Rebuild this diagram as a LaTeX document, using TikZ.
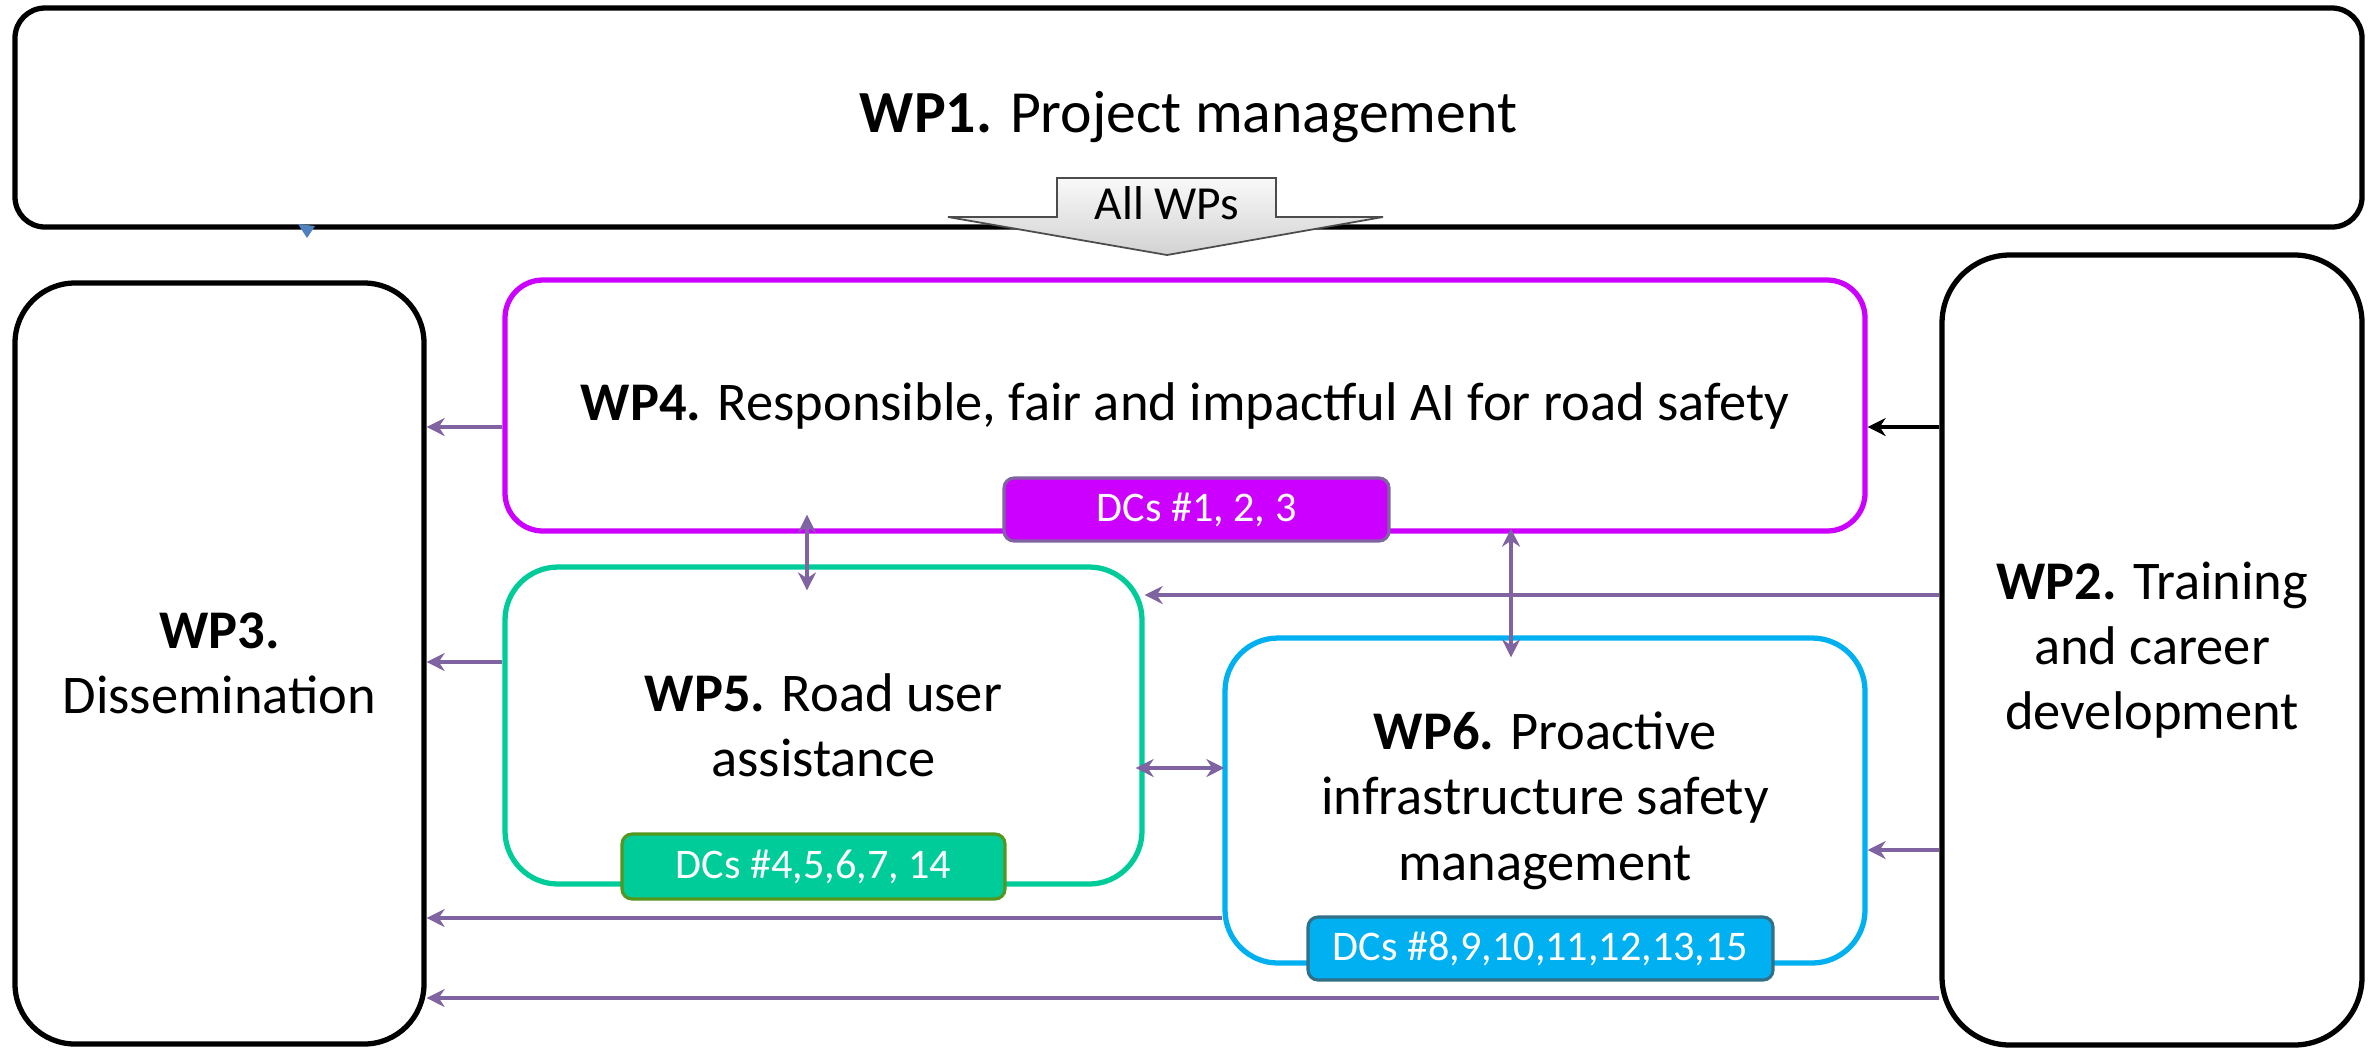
\documentclass[tikz,border=0pt]{standalone}
\usepackage{fontspec}
\setmainfont{Carlito}
\usetikzlibrary{arrows.meta}
\definecolor{wpmagenta}{RGB}{204,0,255}
\definecolor{wpgreen}{RGB}{0,204,153}
\definecolor{wpcyan}{RGB}{0,176,240}
\definecolor{linkpurple}{RGB}{128,100,162}
\definecolor{dcgreen}{RGB}{84,150,30}
\definecolor{dcteal}{RGB}{49,112,135}
\definecolor{markblue}{RGB}{79,129,189}

\tikzset{
  >={Stealth[length=1.8mm,width=1.8mm]},
  wpbox/.style={draw, line width=1.5pt, align=center, inner sep=0pt,
    font=\fontsize{15.5}{18.6}\selectfont},
  dcbox/.style={rounded corners=1mm, line width=0.9pt, text=white, inner sep=0pt,
    font=\fontsize{12}{14}\selectfont},
  flow/.style={linkpurple, line width=1.3pt, ->},
  flowboth/.style={linkpurple, line width=1.3pt, <->}
}

\begin{document}
\begin{tikzpicture}
    \useasboundingbox (0,0) rectangle (23.74,-10.47);
    % work packages
    \node[wpbox, font=\fontsize{17}{20}\selectfont, rounded corners=3mm, minimum width=23.47cm, minimum height=2.19cm] (wp1) at (11.885,-1.175) {\textbf{WP1.} Project management};
    \node[wpbox, rounded corners=6mm, minimum width=4.09cm, minimum height=7.61cm] (wp3) at (2.195,-6.635) {\textbf{WP3.}\\Dissemination};
    \node[wpbox, rounded corners=6.8mm, minimum width=4.2cm, minimum height=7.9cm] (wp2) at (21.52,-6.5) {\textbf{WP2.} Training\\and career\\development};
    \node[wpbox, draw=wpmagenta, rounded corners=3.8mm, minimum width=13.6cm, minimum height=2.51cm] (wp4) at (11.85,-4.055) {\textbf{WP4.} Responsible, fair and impactful AI for road safety};
    \node[wpbox, draw=wpgreen, rounded corners=5.3mm, minimum width=6.37cm, minimum height=3.17cm] (wp5) at (8.235,-7.255) {\textbf{WP5.} Road user\\assistance};
    \node[wpbox, draw=wpcyan, rounded corners=5.3mm, minimum width=6.4cm, minimum height=3.25cm] (wp6) at (15.45,-8.005) {\textbf{WP6.} Proactive\\infrastructure safety\\management};
    % doctoral candidates
    \node[dcbox, fill=wpmagenta, draw=linkpurple, minimum width=3.85cm, minimum height=0.63cm] (dc4) at (11.965,-5.095) {DCs \#1, 2, 3};
    \node[dcbox, fill=wpgreen, draw=dcgreen, minimum width=3.83cm, minimum height=0.65cm] (dc5) at (8.135,-8.665) {DCs \#4,5,6,7, 14};
    \node[dcbox, fill=wpcyan, draw=dcteal, minimum width=4.65cm, minimum height=0.63cm] (dc6) at (15.405,-9.485) {DCs \#8,9,10,11,12,13,15};
    % all WPs arrow
    \draw[draw=gray!60!black, line width=0.5pt, top color=gray!5, bottom color=gray!35]
      (10.57,-1.78) -- (12.76,-1.78) -- (12.76,-2.17) -- (13.83,-2.17)
      -- (11.67,-2.55) -- (9.48,-2.17) -- (10.57,-2.17) -- cycle;
    \node[font=\fontsize{13.5}{15}\selectfont] (allwps) at (11.67,-2.03) {All WPs};
    \fill[markblue] (2.98,-2.24) -- (3.15,-2.26) -- (3.07,-2.38) -- cycle;
    % links to WP3
    \foreach \src/\y in {wp4/-4.27, wp5/-6.62, wp6/-9.18, wp2/-9.98}
      \draw[flow] (\src.west |- 0,\y) -- (wp3.east |- 0,\y);
    % links from WP2
    \draw[flow] (wp2.west |- 0,-5.95) -- (wp5.east |- 0,-5.95);
    \draw[flow] (wp2.west |- 0,-8.5) -- (wp6.east |- 0,-8.5);
    \draw[flow, black] (wp2.west |- 0,-4.27) -- (wp4.east |- 0,-4.27);
    % links between WP4, WP5 and WP6
    \draw[flowboth, shorten <=-1.9mm, shorten >=-2.6mm] (8.07,0 |- wp4.south) -- (8.07,0 |- wp5.north);
    \draw[flowboth, shorten <=-0.5mm, shorten >=-2.2mm] (15.11,0 |- wp4.south) -- (15.11,0 |- wp6.north);
    \draw[flowboth, shorten <=-0.9mm, shorten >=-0.2mm] (wp5.east |- 0,-7.68) -- (wp6.west |- 0,-7.68);
\end{tikzpicture}
\end{document}
